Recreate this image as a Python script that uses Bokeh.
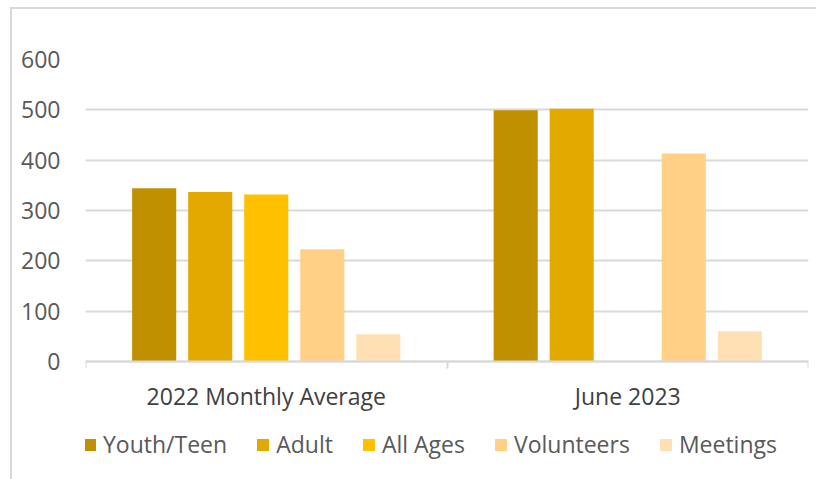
from bokeh.plotting import figure
from bokeh.models import ColumnDataSource, FixedTicker, Legend, LegendItem
from bokeh.transform import dodge
from bokeh.embed import file_html
from bokeh.resources import INLINE

categories = ["2022 Monthly Average", "June 2023"]
series_names = ["Youth/Teen", "Adult", "All Ages", "Volunteers", "Meetings"]
youth_teen = [344, 499]
adult = [337, 502]
all_ages = [332, 0]
volunteers = [223, 413]
meetings = [54, 60]
y_ticks = [0, 100, 200, 300, 400, 500, 600]

colors = ["#C09000", "#E2AA00", "#FFC000", "#FFD086", "#FFE0B4"]
values = [youth_teen, adult, all_ages, volunteers, meetings]

FONT = "Open Sans"
source = ColumnDataSource(data=dict(
    x=[i + 0.5 for i in range(len(categories))],
    **{name: vals for name, vals in zip(series_names, values)}
))

# plot area: 302 px for 0..600, plus space below zero for the category labels and legend
PLOT_PX = 302
BELOW_PX = 118
y_start = -BELOW_PX * max(y_ticks) / PLOT_PX

p = figure(
    x_range=(0, len(categories)), y_range=(y_start, max(y_ticks)),
    frame_width=723, frame_height=PLOT_PX + BELOW_PX,
    min_border_left=73, min_border_right=8, min_border_top=50, min_border_bottom=0,
    output_backend="svg", toolbar_location=None,
)
p.margin = (7, 0, 0, 10)
p.styles = {"border-left": "2px solid #d9d9d9", "border-top": "2px solid #d9d9d9"}
p.outline_line_color = None
p.background_fill_color = "white"
p.border_fill_color = "white"

step = 0.155
width = 0.122
renderers = []
for i, (name, col) in enumerate(zip(series_names, colors)):
    r = p.vbar(x=dodge("x", (i - 2) * step), top=name, width=width, source=source,
               fill_color=col, line_color=None)
    renderers.append(r)

# y axis
p.yaxis.ticker = FixedTicker(ticks=y_ticks)
p.yaxis.axis_line_color = None
p.yaxis.major_tick_line_color = None
p.yaxis.minor_tick_line_color = None
p.yaxis.major_tick_out = 0
p.yaxis.major_tick_in = 0
p.yaxis.major_label_standoff = 25
p.yaxis.major_label_text_font = FONT
p.yaxis.major_label_text_font_size = "23px"
p.yaxis.major_label_text_color = "#595959"
p.ygrid.ticker = FixedTicker(ticks=y_ticks)
p.ygrid.grid_line_color = "#d9d9d9"
p.ygrid.grid_line_width = 2
p.xgrid.grid_line_color = None

# x axis at y=0: labels at category centres, tick marks at category boundaries
p.xaxis.fixed_location = 0
p.xaxis.ticker = FixedTicker(ticks=[i + 0.5 for i in range(len(categories))],
                             minor_ticks=list(range(len(categories) + 1)))
p.xaxis.major_label_overrides = {i + 0.5: c for i, c in enumerate(categories)}
p.xaxis.axis_line_color = "#d9d9d9"
p.xaxis.axis_line_width = 2
p.xaxis.major_tick_line_color = None
p.xaxis.major_tick_out = 0
p.xaxis.major_tick_in = 0
p.xaxis.minor_tick_line_color = "#d9d9d9"
p.xaxis.minor_tick_line_width = 2
p.xaxis.minor_tick_out = 7
p.xaxis.minor_tick_in = 0
p.xaxis.major_label_standoff = 11
p.xaxis.major_label_text_font = FONT
p.xaxis.major_label_text_font_size = "23px"
p.xaxis.major_label_text_color = "#404040"

legend = Legend(
    items=[LegendItem(label=n, renderers=[r]) for n, r in zip(series_names, renderers)],
    orientation="horizontal", location=(-3, 19),
    glyph_width=15, glyph_height=15, label_standoff=6, spacing=28,
    padding=0, margin=0, border_line_color=None, background_fill_alpha=0,
    label_text_font=FONT, label_text_font_size="23px", label_text_color="#595959",
)
p.add_layout(legend, "center")

open("out.html", "w").write(file_html(p, INLINE))
